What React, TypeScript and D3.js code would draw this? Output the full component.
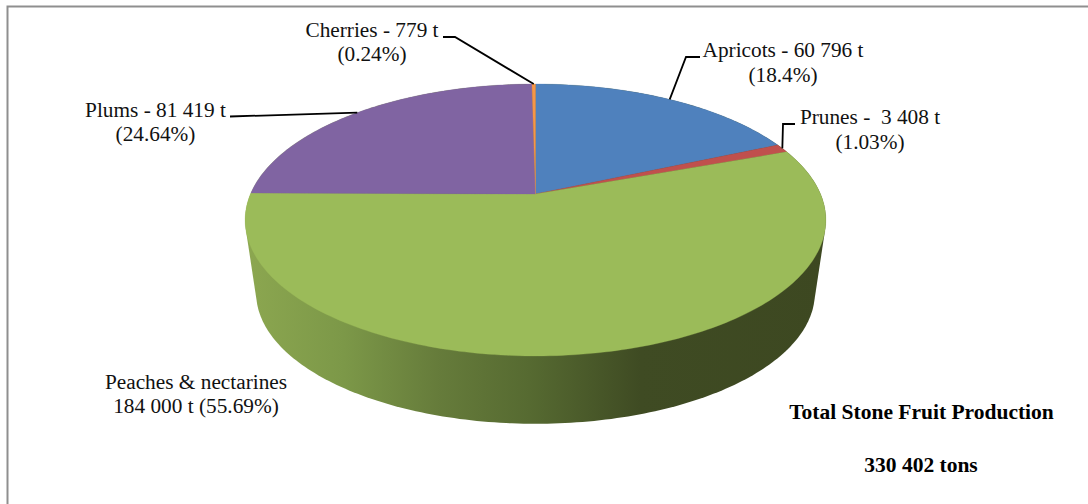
import React from "react";
import * as d3 from "d3";

// Stone fruit production in tons, clockwise from twelve o'clock.
const fruits = ["Apricots", "Prunes", "Peaches & nectarines", "Plums", "Cherries"];
const tons = [60796, 3408, 184000, 81419, 779];
const sliceColors = ["#4f81bd", "#c0504d", "#9bbb59", "#8064a2", "#f79646"];

const labelLines = [
  ["Apricots - 60 796 t", "(18.4%)"],
  ["Prunes -  3 408 t", "(1.03%)"],
  ["Peaches & nectarines", "184 000 t (55.69%)"],
  ["Plums - 81 419 t", "(24.64%)"],
  ["Cherries - 779 t", "(0.24%)"],
];
const totalLines = ["Total Stone Fruit Production", "330 402 tons"];

// Label layout: centre x, first baseline, and the leader's elbow points (empty = no leader).
const labelX = [783, 870, 196, 155.5, 372];
const labelY = [57, 124, 388.5, 116.5, 36.5];
const leaderElbows: [number, number][][] = [
  [[700, 57], [686, 57]],
  [[795, 124], [783, 124]],
  [],
  [[230, 116.5]],
  [[443, 37], [455, 37]],
];

const W = 1088;
const H = 504;
const LINE_STEP = 24.6;
const FONT = "'Liberation Serif', 'Times New Roman', serif";

// Perspective projection of the unit disc onto the page.
const hubX = 535.5;
const hubY = 194;
const scaleU = 285;
const scaleV = 131;
const tilt = 0.1912;
const project = (angle: number): [number, number] => {
  const u = Math.sin(angle);
  const v = Math.cos(angle);
  const w = 1 + tilt * v;
  return [hubX + (scaleU * u) / w, hubY - (scaleV * v) / w];
};

// The base of the disc is a slightly smaller copy, lowered by the pie's thickness.
const faceCentreY = 220;
const baseCentreY = 293;
const baseScale = 0.962;
const projectBase = (angle: number): [number, number] => {
  const [x, y] = project(angle);
  return [hubX + (x - hubX) * baseScale, baseCentreY + (y - faceCentreY) * baseScale];
};

const sampleArc = (a0: number, a1: number, f: (a: number) => [number, number]) => {
  const n = Math.max(2, Math.ceil(((a1 - a0) / (2 * Math.PI)) * 360));
  return d3.range(n + 1).map((i) => f(a0 + ((a1 - a0) * i) / n));
};

const line = d3.line();

export default function App() {
  const arcs = d3.pie<number>().sort(null).value((d) => d)(tons);
  const fullTurn = sampleArc(0, 2 * Math.PI, project);
  const baseTurn = sampleArc(0, 2 * Math.PI, projectBase);
  const sideHull = d3.polygonHull([...fullTurn, ...baseTurn]) as [number, number][];

  const sideStops: [number, string][] = [
    [0, "#8ca750"],
    [0.17, "#7c9848"],
    [0.33, "#667c3b"],
    [0.49, "#566a31"],
    [0.68, "#3f4b23"],
    [1, "#3d4821"],
  ];

  return (
    <svg
      width={W}
      height={H}
      viewBox={`0 0 ${W} ${H}`}
      style={{ position: "absolute", left: 0, top: 0, display: "block", background: "#fff" }}
    >
      <defs>
        <linearGradient id="sideShade" gradientUnits="userSpaceOnUse" x1={245} y1={0} x2={826} y2={0}>
          {sideStops.map(([o, c]) => (
            <stop key={o} offset={o} stopColor={c} />
          ))}
        </linearGradient>
      </defs>

      {/* Frame: top and left edges only */}
      <path d={`M7.5 ${H} V6.5 H${W}`} fill="none" stroke="#8f8f8f" strokeWidth={2} />

      {/* Pie side wall and top face */}
      <path d={line(sideHull) + "Z"} fill="url(#sideShade)" />
      {arcs.map((a, i) => {
        const rim = sampleArc(a.startAngle, a.endAngle, project);
        return (
          <path
            key={fruits[i]}
            d={line([[hubX, hubY], ...rim]) + "Z"}
            fill={sliceColors[i]}
            stroke={sliceColors[i]}
            strokeWidth={0.3}
          />
        );
      })}

      {/* Leader lines run from each slice's mid-angle on the rim to its label */}
      {arcs.map((a, i) => {
        if (leaderElbows[i].length === 0) return null;
        const tip = project((a.startAngle + a.endAngle) / 2);
        return (
          <path
            key={fruits[i]}
            d={line([...leaderElbows[i], tip]) as string}
            fill="none"
            stroke="#000"
            strokeWidth={1.8}
          />
        );
      })}

      {/* Slice labels */}
      {labelLines.map((rows, i) => (
        <g key={fruits[i]} fontFamily={FONT} fontSize={21.3} fill="#111" textAnchor="middle">
          {rows.map((row, j) => (
            <text key={row} x={labelX[i]} y={labelY[i] + j * LINE_STEP} style={{ whiteSpace: "pre" }}>
              {row}
            </text>
          ))}
        </g>
      ))}

      {/* Total production note */}
      <g fontFamily={FONT} fontSize={21.5} fontWeight="bold" fill="#000" textAnchor="middle">
        <text x={921.5} y={419}>{totalLines[0]}</text>
        <text x={921} y={472}>{totalLines[1]}</text>
      </g>
    </svg>
  );
}
